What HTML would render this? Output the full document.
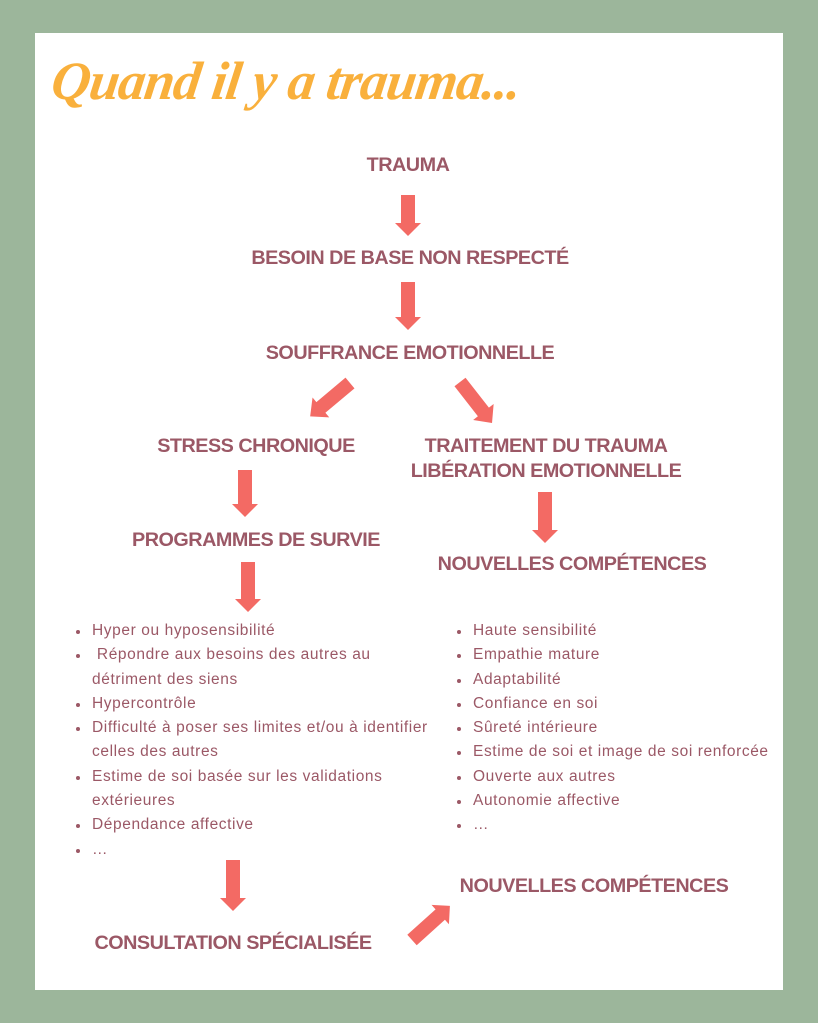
<!DOCTYPE html>
<html><head><meta charset="utf-8"><style>
body{margin:0;width:818px;height:1023px;background:#9cb69b;position:relative;overflow:hidden;font-family:"Liberation Sans",sans-serif;}
.panel{position:absolute;left:35px;top:33px;width:748px;height:957px;background:#fff;}
.h{position:absolute;color:#9b5866;font-weight:bold;font-size:19.8px;letter-spacing:-0.5px;white-space:nowrap;transform:translateX(-50%);text-align:center;line-height:25px}
.t{position:absolute;left:52px;top:50px;color:#f9b03c;font-family:"Liberation Serif",serif;font-style:italic;font-weight:bold;font-size:54px;letter-spacing:-1px;transform:skewX(-8deg)}
ul{position:absolute;margin:0;padding:0 0 0 16px;color:#9b5866;font-size:15.5px;line-height:24.3px;letter-spacing:0.6px}
li{padding-left:2px}
li::marker{font-size:12px}
</style></head><body>
<div class="panel"></div>
<div class="t">Quand il y a trauma...</div>
<div class="h" style="left:408px;top:153px">TRAUMA</div>
<div class="h" style="left:410px;top:246px">BESOIN DE BASE NON RESPECTÉ</div>
<div class="h" style="left:410px;top:341px">SOUFFRANCE EMOTIONNELLE</div>
<div class="h" style="left:256px;top:434px">STRESS CHRONIQUE</div>
<div class="h" style="left:546px;top:434px">TRAITEMENT DU TRAUMA<br>LIBÉRATION EMOTIONNELLE</div>
<div class="h" style="left:256px;top:528px">PROGRAMMES DE SURVIE</div>
<div class="h" style="left:572px;top:552px">NOUVELLES COMPÉTENCES</div>
<div class="h" style="left:594px;top:874px">NOUVELLES COMPÉTENCES</div>
<div class="h" style="left:233px;top:931px">CONSULTATION SPÉCIALISÉE</div>
<ul style="left:74px;top:619px;width:362px">
<li>Hyper ou hyposensibilité</li>
<li>&nbsp;Répondre aux besoins des autres au<br>détriment des siens</li>
<li>Hypercontrôle</li>
<li>Difficulté à poser ses limites et/ou à identifier celles des autres</li>
<li>Estime de soi basée sur les validations extérieures</li>
<li>Dépendance affective</li>
<li>…</li>
</ul>
<ul style="left:455px;top:619px;width:330px">
<li>Haute sensibilité</li>
<li>Empathie mature</li>
<li>Adaptabilité</li>
<li>Confiance en soi</li>
<li>Sûreté intérieure</li>
<li>Estime de soi et image de soi renforcée</li>
<li>Ouverte aux autres</li>
<li>Autonomie affective</li>
<li>…</li>
</ul>
<svg width="818" height="1023" style="position:absolute;left:0;top:0">
<g fill="#f36a64">
<g transform="translate(408,195)"><polygon points="-7,0 7,0 7,28 13,28 0,41 -13,28 -7,28"/></g>
<g transform="translate(408,282)"><polygon points="-7,0 7,0 7,35 13,35 0,48 -13,35 -7,35"/></g>
<g transform="translate(350,383) rotate(50)"><polygon points="-7,0 7,0 7,38 13,38 0,52 -13,38 -7,38"/></g>
<g transform="translate(460,382) rotate(-38)"><polygon points="-7,0 7,0 7,38 13,38 0,52 -13,38 -7,38"/></g>
<g transform="translate(245,470)"><polygon points="-7,0 7,0 7,34 13,34 0,47 -13,34 -7,34"/></g>
<g transform="translate(545,492)"><polygon points="-7,0 7,0 7,38 13,38 0,51 -13,38 -7,38"/></g>
<g transform="translate(248,562)"><polygon points="-7,0 7,0 7,37 13,37 0,50 -13,37 -7,37"/></g>
<g transform="translate(233,860)"><polygon points="-7,0 7,0 7,38 13,38 0,51 -13,38 -7,38"/></g>
<g transform="translate(412,940) rotate(-132)"><polygon points="-7,0 7,0 7,38 13,38 0,51 -13,38 -7,38"/></g>
</g>
</svg>
</body></html>
